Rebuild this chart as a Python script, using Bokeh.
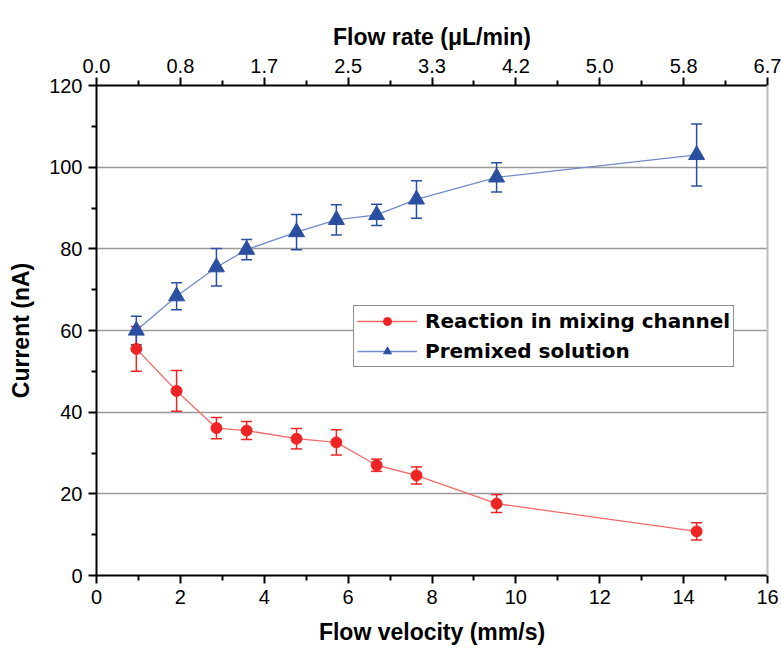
from bokeh.plotting import figure
from bokeh.models import (ColumnDataSource, Whisker, TeeHead, LinearAxis, FixedTicker,
                          Legend, LegendItem, Range1d)
from bokeh.embed import file_html
from bokeh.resources import INLINE

# ---- data ----
velocity = [0.95, 1.91, 2.86, 3.58, 4.77, 5.72, 6.68, 7.63, 9.54, 14.31]
reaction = [55.5, 45.2, 36.1, 35.5, 33.5, 32.6, 27.0, 24.5, 17.6, 10.8]
reaction_err = [5.5, 5.0, 2.6, 2.2, 2.5, 3.1, 1.5, 2.1, 2.2, 2.1]
premixed = [60.0, 68.4, 75.5, 79.8, 84.1, 87.1, 88.3, 92.1, 97.5, 103.0]
premixed_err = [3.5, 3.3, 4.6, 2.5, 4.3, 3.7, 2.6, 4.6, 3.6, 7.6]

x_ticks = [0, 2, 4, 6, 8, 10, 12, 14, 16]
rate_labels = ["0.0", "0.8", "1.7", "2.5", "3.3", "4.2", "5.0", "5.8", "6.7"]
y_ticks = [0, 20, 40, 60, 80, 100, 120]

RED = "#ee2424"
RED_LINE = "#f26a6a"
BLUE = "#2b4fa0"
BLUE_LINE = "#6f8cc8"
FONT = "Liberation Sans"

p = figure(width=781, height=648, output_backend="svg", toolbar_location=None,
           x_range=Range1d(0, 16), y_range=Range1d(0, 120),
           min_border_left=96, min_border_right=14, min_border_top=85, min_border_bottom=73,
           x_axis_location=None, y_axis_location=None)
p.outline_line_color = None
p.background_fill_color = "white"
p.border_fill_color = "white"

def style_axis(ax):
    ax.axis_line_color = "black"
    ax.axis_line_width = 2
    ax.major_tick_line_color = "black"
    ax.major_tick_line_width = 2
    ax.minor_tick_line_color = "black"
    ax.minor_tick_line_width = 2
    ax.major_tick_out = 8
    ax.major_tick_in = 0
    ax.minor_tick_out = 5
    ax.minor_tick_in = 0
    ax.major_label_text_font = FONT
    ax.major_label_text_font_size = "20px"
    ax.major_label_text_color = "black"
    ax.axis_label_text_font = FONT
    ax.axis_label_text_font_style = "bold"
    ax.axis_label_text_font_size = "23px"
    ax.axis_label_text_color = "black"

xticker = FixedTicker(ticks=x_ticks, minor_ticks=[1, 3, 5, 7, 9, 11, 13, 15])
yticker = FixedTicker(ticks=y_ticks, minor_ticks=[10, 30, 50, 70, 90, 110])

bottom = LinearAxis(ticker=xticker, axis_label="Flow velocity (mm/s)")
style_axis(bottom)
bottom.major_label_standoff = 6
bottom.axis_label_standoff = 12
p.add_layout(bottom, "below")

top = LinearAxis(ticker=xticker, axis_label="Flow rate (μL/min)",
                 major_label_overrides={t: s for t, s in zip(x_ticks, rate_labels)})
style_axis(top)
top.major_label_standoff = 5
top.axis_label_standoff = 6
p.add_layout(top, "above")

left = LinearAxis(ticker=yticker, axis_label="Current (nA)")
style_axis(left)
left.major_label_standoff = 6
left.axis_label_standoff = 12
p.add_layout(left, "left")

right = LinearAxis(ticker=FixedTicker(ticks=[]))
right.axis_line_color = "#bdbdbd"
right.axis_line_width = 2
right.major_tick_line_color = None
right.minor_tick_line_color = None
p.add_layout(right, "right")

p.xgrid.visible = False
p.ygrid.ticker = FixedTicker(ticks=[20, 40, 60, 80, 100])
p.ygrid.grid_line_color = "#9a9a9a"
p.ygrid.grid_line_width = 1.5

src_r = ColumnDataSource(dict(x=velocity, y=reaction,
                              lo=[v - e for v, e in zip(reaction, reaction_err)],
                              hi=[v + e for v, e in zip(reaction, reaction_err)]))
src_b = ColumnDataSource(dict(x=velocity, y=premixed,
                              lo=[v - e for v, e in zip(premixed, premixed_err)],
                              hi=[v + e for v, e in zip(premixed, premixed_err)]))

for src, col in ((src_r, RED), (src_b, BLUE)):
    w = Whisker(source=src, base="x", lower="lo", upper="hi", line_color=col, line_width=1.5,
                upper_head=TeeHead(size=11, line_color=col, line_width=1.5),
                lower_head=TeeHead(size=11, line_color=col, line_width=1.5))
    p.add_layout(w)

lr = p.line("x", "y", source=src_r, line_color=RED_LINE, line_width=1.3)
sr = p.scatter("x", "y", source=src_r, marker="circle", size=11, fill_color=RED, line_color=RED)
lb = p.line("x", "y", source=src_b, line_color=BLUE_LINE, line_width=1.3)
sb = p.scatter("x", "y", source=src_b, marker="triangle", size=16, fill_color=BLUE, line_color=BLUE)

legend = Legend(items=[LegendItem(label="Reaction in mixing channel", renderers=[lr, sr]),
                       LegendItem(label="Premixed solution", renderers=[lb, sb])],
                location=(257, 208))
legend.label_text_font = "DejaVu Sans"
legend.label_text_font_style = "bold"
legend.label_text_font_size = "20px"
legend.label_text_color = "black"
legend.glyph_width = 60
legend.glyph_height = 20
legend.label_height = 20
legend.spacing = 6
legend.padding = 3
legend.margin = 0
legend.label_standoff = 8
legend.border_line_color = "#222222"
legend.border_line_width = 1.5
legend.background_fill_alpha = 1
p.add_layout(legend, "center")

open("out.html", "w").write(file_html(p, INLINE))
